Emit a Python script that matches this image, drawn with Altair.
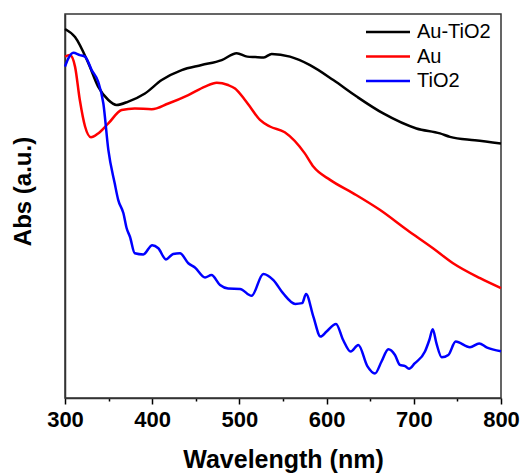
import altair as alt
import pandas as pd

# Au-TiO2 (black)
au_tio2_wl = [300, 311.5, 326.8, 338, 349.7, 359, 372.6, 391.7, 410.9, 433.8, 456.7, 479.7, 496.9,
              509, 518, 528, 537, 558, 581, 607.7, 634.5, 665, 703, 730, 741.5, 770, 800]
au_tio2_abs = [0.961, 0.940, 0.872, 0.811, 0.776, 0.763, 0.772, 0.793, 0.828, 0.854, 0.867, 0.880, 0.898,
               0.889, 0.888, 0.887, 0.896, 0.889, 0.867, 0.828, 0.785, 0.741, 0.702, 0.689, 0.680, 0.671, 0.663]

# Au (red)
au_wl = [300, 305.7, 311.5, 317, 323, 329.8, 338, 349.7, 365, 380, 399.4, 418.5, 441.4, 460.6, 474,
         487, 495, 506.4, 512, 523.6, 535, 552, 575, 585, 604, 630.6, 661, 692, 722, 745, 776, 800]
au_abs = [0.889, 0.893, 0.863, 0.776, 0.707, 0.679, 0.689, 0.715, 0.750, 0.754, 0.752, 0.767, 0.789, 0.811, 0.821,
          0.815, 0.806, 0.776, 0.759, 0.724, 0.707, 0.692, 0.637, 0.602, 0.568, 0.533, 0.490, 0.438, 0.390, 0.351, 0.312, 0.286]

# TiO2 (blue)
tio2_wl = [300, 304, 309.5, 317, 323, 330.6, 338, 344, 349.7, 357, 361, 367, 370.7, 374.5, 380, 389.8,
           400, 407, 415.8, 424, 431.9, 441.4, 449, 460.6, 468, 477.8, 487, 500.7, 514, 527.4, 539, 550,
           564, 572, 576.4, 584.8, 593, 600, 610.8, 619, 627.6, 636.4, 646.7, 655.5, 663, 670.8, 678.4,
           684, 690, 694.5, 701, 712.8, 717.8, 721.7, 726, 732, 739.6, 748, 764.4, 775, 783.4, 800]
tio2_abs = [0.863, 0.885, 0.899, 0.893, 0.889, 0.854, 0.824, 0.767, 0.646, 0.559, 0.516, 0.481, 0.442, 0.420, 0.377, 0.374,
            0.398, 0.390, 0.361, 0.375, 0.377, 0.351, 0.340, 0.314, 0.320, 0.294, 0.285, 0.284, 0.266, 0.323, 0.307, 0.273,
            0.245, 0.247, 0.271, 0.212, 0.160, 0.173, 0.193, 0.151, 0.121, 0.138, 0.083, 0.064, 0.095, 0.127, 0.112,
            0.086, 0.083, 0.076, 0.090, 0.121, 0.151, 0.179, 0.142, 0.106, 0.112, 0.147, 0.132, 0.142, 0.132, 0.122]

series_names = ["Au-TiO2", "Au", "TiO2"]
series_colors = ["#000000", "#ff0000", "#0000ff"]
x_ticks = [300, 350, 400, 450, 500, 550, 600, 650, 700, 750, 800]

rows = []
for name, wl, ab in [("Au-TiO2", au_tio2_wl, au_tio2_abs), ("Au", au_wl, au_abs), ("TiO2", tio2_wl, tio2_abs)]:
    for i, (w, a) in enumerate(zip(wl, ab)):
        rows.append({"series": name, "wl": w, "abs": a, "idx": i})
df = pd.DataFrame(rows)
leg_df = pd.DataFrame({"series": series_names, "row": list(range(len(series_names)))})

FONT = "Liberation Sans"
color_scale = alt.Scale(domain=series_names, range=series_colors)

lines = alt.Chart(df).mark_line(strokeWidth=2.5, interpolate="monotone").encode(
    x=alt.X("wl:Q", scale=alt.Scale(domain=[300, 800], nice=False, zero=False),
            axis=alt.Axis(title="Wavelength (nm)", values=x_ticks,
                          labelExpr="datum.value % 100 === 0 ? datum.label : ''",
                          tickSize=alt.ExprRef("datum.value % 100 === 0 ? 6 : 3"),
                          tickColor="#000", tickWidth=1.5, domainColor="#333", domainWidth=1.5,
                          labelFont=FONT, labelFontSize=22, labelFontWeight="bold", labelColor="#000",
                          labelPadding=5, labelFlush=False, labelOverlap=False, grid=False,
                          titleFont=FONT, titleFontSize=25, titleFontWeight="bold", titleColor="#000",
                          titlePadding=17)),
    y=alt.Y("abs:Q", scale=alt.Scale(domain=[0, 1], nice=False),
            axis=alt.Axis(title="Abs (a.u.)", labels=False, ticks=False, grid=False,
                          domainColor="#333", domainWidth=1.5,
                          titleFont=FONT, titleFontSize=24, titleFontWeight="bold", titleColor="#000",
                          titlePadding=30, titleY=177)),
    color=alt.Color("series:N", scale=color_scale, legend=None),
    order="idx:Q",
)

leg_y = alt.Y("row:Q", scale=alt.Scale(domain=[0, 2], range=[18, 67]), axis=None)

leg_rule = alt.Chart(leg_df).mark_rule(strokeWidth=2.5).encode(
    x=alt.value(301), x2=alt.value(345), y=leg_y,
    color=alt.Color("series:N", scale=color_scale, legend=None),
)

leg_text = alt.Chart(leg_df).mark_text(align="left", baseline="middle", font=FONT, fontSize=20,
                                       color="#000").encode(
    x=alt.value(352), y=leg_y, text="series:N",
)

chart = alt.layer(lines, leg_rule, leg_text).resolve_scale(y="independent").properties(
    width=436, height=384,
    autosize=alt.AutoSizeParams(type="none"),
    padding={"left": 65, "top": 14, "right": 21, "bottom": 76},
).configure_view(stroke="#333", strokeWidth=1.5)

chart.save("out.html", embed_options={"renderer": "svg", "actions": False})
